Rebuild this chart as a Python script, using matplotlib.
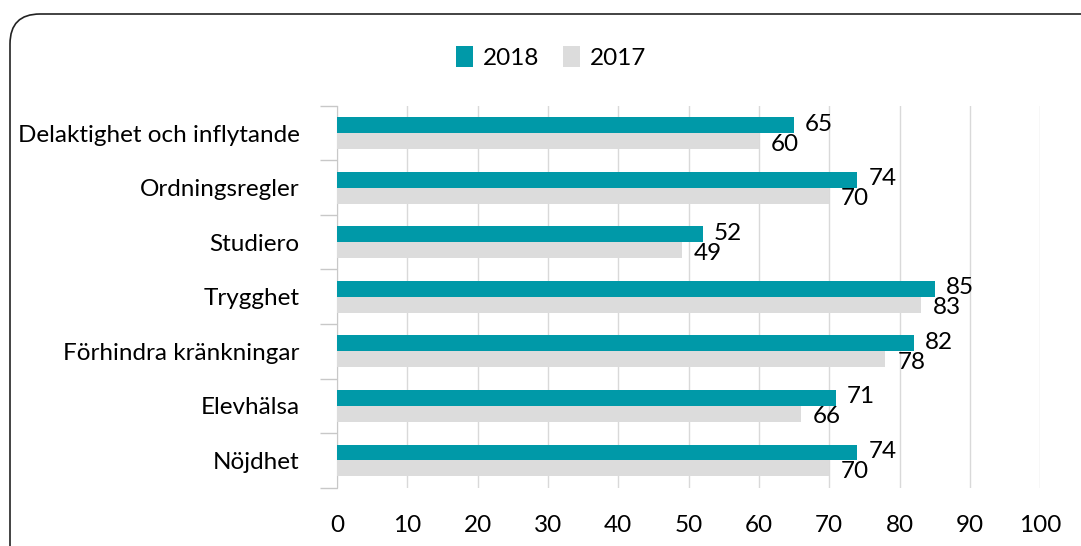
import matplotlib.pyplot as plt
import numpy as np
from matplotlib.patches import FancyBboxPatch
from matplotlib.transforms import IdentityTransform

plt.rcParams['font.family'] = ['Lato', 'DejaVu Sans']

categories = ["Delaktighet och inflytande", "Ordningsregler", "Studiero", "Trygghet",
              "Förhindra kränkningar", "Elevhälsa", "Nöjdhet"]
values_2018 = [65, 74, 52, 85, 82, 71, 74]
values_2017 = [60, 70, 49, 83, 78, 66, 70]
x_ticks = [0, 10, 20, 30, 40, 50, 60, 70, 80, 90, 100]

teal = "#0099A8"
grey = "#DCDCDC"
fs = 17.5

fig = plt.figure(figsize=(10.81, 5.46), dpi=100)
ax = fig.add_axes([0.3117, 0.107, 0.6505, 0.699])

y = np.arange(len(categories))[::-1]
h = 0.29
bars18 = ax.barh(y + h / 2, values_2018, height=h, color=teal, label="2018", zorder=3)
bars17 = ax.barh(y - h / 2, values_2017, height=h, color=grey, label="2017", zorder=3)

for b, v in zip(bars18, values_2018):
    ax.annotate(str(v), (b.get_width(), b.get_y() + b.get_height() / 2),
                xytext=(11, 1), textcoords="offset pixels", va="center", ha="left", fontsize=fs)
for b, v in zip(bars17, values_2017):
    ax.annotate(str(v), (b.get_width(), b.get_y() + b.get_height() / 2),
                xytext=(12, -3), textcoords="offset pixels", va="center", ha="left", fontsize=fs)

ax.set_xlim(0, 100)
ax.set_ylim(-0.5, len(categories) - 0.5)
ax.set_xticks(x_ticks)
ax.set_xticklabels([str(t) for t in x_ticks], fontsize=fs)
ax.set_yticks(y)
ax.set_yticklabels(categories, fontsize=fs)
ax.set_yticks(np.arange(len(categories) + 1) - 0.5, minor=True)
ax.tick_params(axis="y", which="major", length=0, pad=27)
ax.tick_params(axis="y", which="minor", length=12, color="#C8C8C8", width=1)
ax.tick_params(axis="x", length=0, pad=20)

ax.grid(axis="x", color="#D9D9D9", linewidth=1, zorder=0)
for s in ["top", "right", "bottom"]:
    ax.spines[s].set_visible(False)
ax.spines["left"].set_color("#C8C8C8")

fig.legend(loc="upper center", bbox_to_anchor=(0.51, 0.955), ncol=2, frameon=False,
           fontsize=fs, handlelength=0.7, handleheight=0.9, handletextpad=0.4,
           columnspacing=1.0)

frame = FancyBboxPatch((10, -40), 1120, 546 - 14 + 40, boxstyle="round,pad=0,rounding_size=30",
                       transform=IdentityTransform(), facecolor="none", edgecolor="#222222",
                       linewidth=1.2)
fig.patches.append(frame)

plt.savefig("out.png", dpi=100)
